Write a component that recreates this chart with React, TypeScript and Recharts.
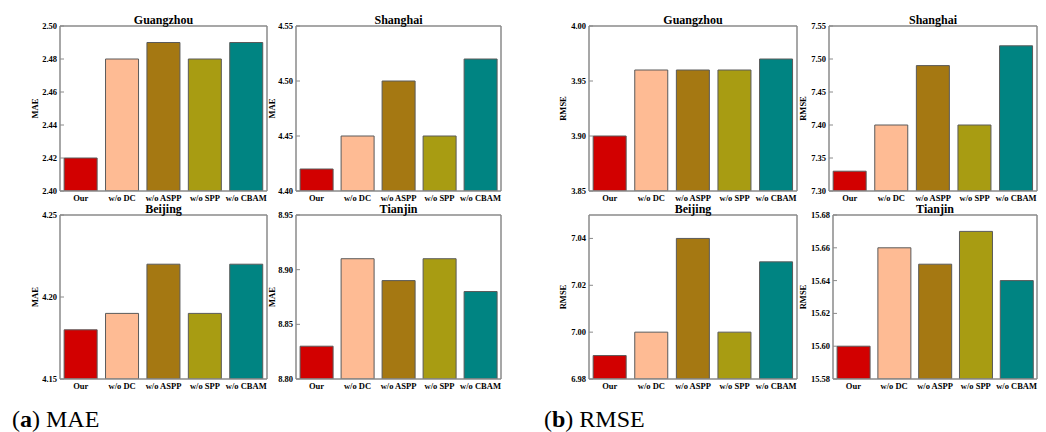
import { BarChart, Bar, XAxis, YAxis, Cell } from "recharts";

const categories = ["Our", "w/o DC", "w/o ASPP", "w/o SPP", "w/o CBAM"];
const barColors = ["#d20000", "#febb94", "#a57812", "#a89c12", "#008482"];

// MAE
const maeGuangzhou = [2.42, 2.48, 2.49, 2.48, 2.49];
const maeShanghai = [4.42, 4.45, 4.5, 4.45, 4.52];
const maeBeijing = [4.18, 4.19, 4.22, 4.19, 4.22];
const maeTianjin = [8.83, 8.91, 8.89, 8.91, 8.88];

// RMSE
const rmseGuangzhou = [3.9, 3.96, 3.96, 3.96, 3.97];
const rmseShanghai = [7.33, 7.4, 7.49, 7.4, 7.52];
const rmseBeijing = [6.99, 7.0, 7.04, 7.0, 7.03];
const rmseTianjin = [15.6, 15.66, 15.65, 15.67, 15.64];

const maeGuangzhouTicks = [2.4, 2.42, 2.44, 2.46, 2.48, 2.5];
const maeShanghaiTicks = [4.4, 4.45, 4.5, 4.55];
const maeBeijingTicks = [4.15, 4.2, 4.25];
const maeTianjinTicks = [8.8, 8.85, 8.9, 8.95];
const rmseGuangzhouTicks = [3.85, 3.9, 3.95, 4.0];
const rmseShanghaiTicks = [7.3, 7.35, 7.4, 7.45, 7.5, 7.55];
const rmseBeijingTicks = [6.98, 7.0, 7.02, 7.04];
const rmseTianjinTicks = [15.58, 15.6, 15.62, 15.64, 15.66, 15.68];

const serif = "'Liberation Serif', 'Times New Roman', serif";
const frame = { stroke: "#8a8a8a", strokeWidth: 1.5 };
const tickFont = { fill: "#000", fontSize: 8.5, fontWeight: "bold", fontFamily: serif };

interface PanelProps {
  title: string;
  metric: string;
  values: number[];
  ticks: number[];
  domain: [number, number];
  left: number;
  top: number;
  right: number;
  bottom: number;
  labelGap?: number;
}

function Panel({ title, metric, values, ticks, domain, left, top, right, bottom, labelGap = 25 }: PanelProps) {
  const data = categories.map((name, i) => ({ name, value: values[i] }));
  const axisW = labelGap * 2;
  const w = right - left + axisW + 3;
  const h = bottom - top + 26 + 20;
  return (
    <div style={{ position: "absolute", left: left - axisW, top: top - 26 }}>
      <BarChart
        width={w}
        height={h}
        data={data}
        margin={{ top: 25, right: 2, bottom: 0, left: 0 }}
        barCategoryGap="10%"
      >
        <XAxis
          dataKey="name"
          height={20}
          tickLine={false}
          tickSize={0}
          tickMargin={4}
          interval={0}
          axisLine={frame}
          tick={tickFont}
        />
        <XAxis
          xAxisId="top"
          dataKey="name"
          orientation="top"
          height={1}
          tick={false}
          tickLine={false}
          axisLine={frame}
          label={{
            value: title,
            position: "top",
            offset: 1,
            fill: "#000",
            fontSize: 12,
            fontWeight: "bold",
            fontFamily: serif,
          }}
        />
        <YAxis
          yAxisId="l"
          width={axisW}
          domain={domain}
          ticks={ticks}
          interval={0}
          allowDataOverflow
          tickSize={-4}
          tickMargin={7}
          tickLine={{ stroke: "#8a8a8a" }}
          axisLine={frame}
          tick={tickFont}
          tickFormatter={(v: number) => v.toFixed(2)}
          label={{
            value: metric,
            angle: -90,
            position: "center",
            fill: "#000",
            fontSize: 8.5,
            fontWeight: "bold",
            fontFamily: serif,
          }}
        />
        <YAxis
          yAxisId="r"
          orientation="right"
          width={1}
          domain={domain}
          ticks={ticks}
          interval={0}
          allowDataOverflow
          tickSize={4}
          tick={false}
          tickLine={{ stroke: "#8a8a8a" }}
          axisLine={frame}
        />
        <Bar dataKey="value" yAxisId="l" stroke="#5a5a5a" strokeWidth={1} isAnimationActive={false}>
          {data.map((d, i) => (
            <Cell key={d.name} fill={barColors[i]} />
          ))}
        </Bar>
      </BarChart>
    </div>
  );
}

export default function App() {
  return (
    <div
      style={{
        position: "absolute",
        left: 0,
        top: 0,
        width: 1046,
        height: 432,
        background: "#fff",
        fontFamily: serif,
      }}
    >
      <Panel title="Guangzhou" metric="MAE" values={maeGuangzhou} ticks={maeGuangzhouTicks} domain={[2.4, 2.5]} left={60} top={26} right={267} bottom={191} />
      <Panel title="Shanghai" metric="MAE" values={maeShanghai} ticks={maeShanghaiTicks} domain={[4.4, 4.55]} left={296} top={26} right={501} bottom={191} labelGap={24} />
      <Panel title="Beijing" metric="MAE" values={maeBeijing} ticks={maeBeijingTicks} domain={[4.15, 4.25]} left={60} top={215} right={267} bottom={379} />
      <Panel title="Tianjin" metric="MAE" values={maeTianjin} ticks={maeTianjinTicks} domain={[8.8, 8.95]} left={296} top={215} right={501} bottom={379} labelGap={24} />

      <Panel title="Guangzhou" metric="RMSE" values={rmseGuangzhou} ticks={rmseGuangzhouTicks} domain={[3.85, 4.0]} left={589} top={26} right={797} bottom={191} labelGap={26} />
      <Panel title="Shanghai" metric="RMSE" values={rmseShanghai} ticks={rmseShanghaiTicks} domain={[7.3, 7.55]} left={829} top={26} right={1037} bottom={191} labelGap={26} />
      <Panel title="Beijing" metric="RMSE" values={rmseBeijing} ticks={rmseBeijingTicks} domain={[6.98, 7.05]} left={589} top={215} right={797} bottom={379} labelGap={26} />
      <Panel title="Tianjin" metric="RMSE" values={rmseTianjin} ticks={rmseTianjinTicks} domain={[15.58, 15.68]} left={833} top={215} right={1037} bottom={379} labelGap={30} />

      <div style={{ position: "absolute", left: 12, top: 407, fontSize: 24, lineHeight: "24px", color: "#000" }}>
        (<b>a</b>) MAE
      </div>
      <div style={{ position: "absolute", left: 544, top: 407, fontSize: 24, lineHeight: "24px", color: "#000" }}>
        (<b>b</b>) RMSE
      </div>
    </div>
  );
}
